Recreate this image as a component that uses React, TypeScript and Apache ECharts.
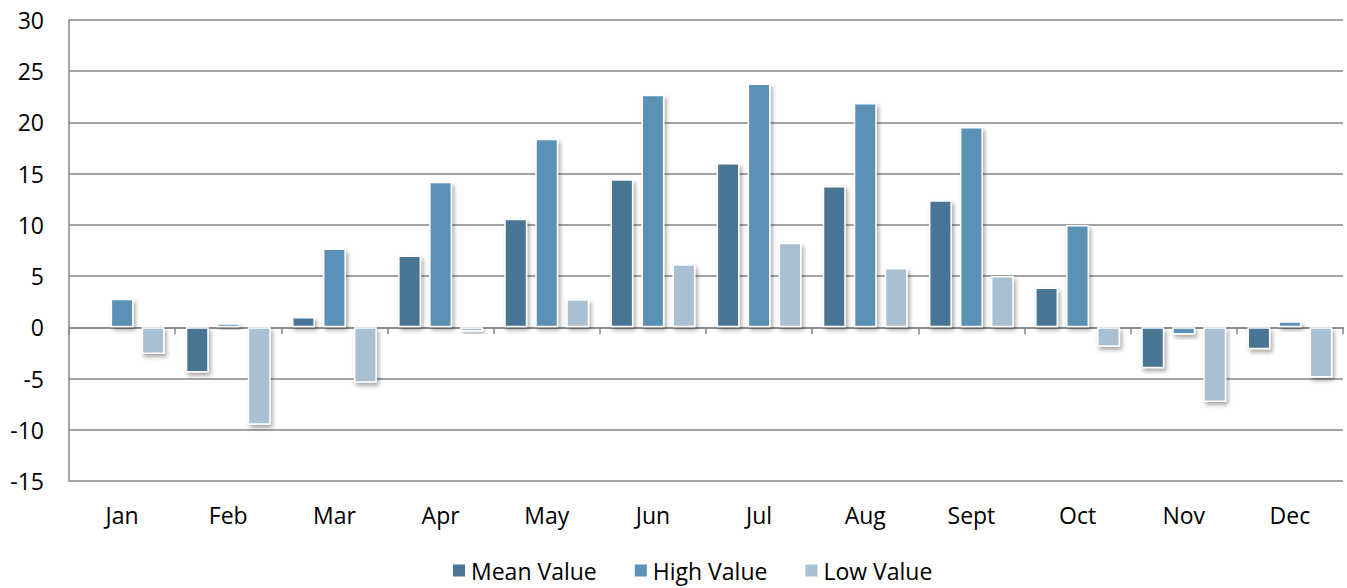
import React, { useEffect, useRef } from "react";
import * as echarts from "echarts";

const categories = ["Jan", "Feb", "Mar", "Apr", "May", "Jun", "Jul", "Aug", "Sept", "Oct", "Nov", "Dec"];
const meanValues = [-0.1, -4.4, 1.0, 7.0, 10.6, 14.45, 16.05, 13.8, 12.4, 3.9, -4.0, -2.15];
const highValues = [2.8, 0.4, 7.7, 14.2, 18.4, 22.7, 23.8, 21.9, 19.55, 10.0, -0.7, 0.6];
const lowValues = [-2.6, -9.5, -5.4, -0.4, 2.75, 6.15, 8.25, 5.8, 5.0, -1.9, -7.3, -4.9];

const FONT = "'Open Sans', sans-serif";
const FS = 23;

export default function App() {
  const ref = useRef<HTMLDivElement>(null);
  useEffect(() => {
    document.body.style.margin = "0";
    const chart = echarts.init(ref.current!, null, { renderer: "svg" });
    const barStyle = (color: string) => ({
      color,
      borderColor: "#ffffff",
      borderWidth: 1.5,
      shadowColor: "rgba(0,0,0,0.35)",
      shadowBlur: 4,
      shadowOffsetX: 2,
      shadowOffsetY: 3,
    });
    chart.setOption({
      animation: false,
      textStyle: { fontFamily: FONT },
      grid: { left: 69, right: 4, top: 20, bottom: 107, containLabel: false },
      legend: {
        bottom: 1,
        left: 446,
        itemWidth: 14,
        itemHeight: 14,
        itemGap: 36,
        icon: "rect",
        textStyle: { fontSize: FS, color: "#000", fontFamily: FONT },
        data: ["Mean Value", "High Value", "Low Value"],
      },
      xAxis: [
        {
          type: "category",
          data: categories,
          position: "bottom",
          axisLine: { show: false, onZero: false },
          axisTick: { show: false },
          axisLabel: { fontSize: FS, color: "#000", margin: 22, fontFamily: FONT },
        },
        {
          type: "category",
          data: categories,
          position: "bottom",
          axisLine: { show: true, onZero: true, lineStyle: { color: "#868686", width: 1.5 } },
          axisTick: { show: true, alignWithLabel: false, length: 7, lineStyle: { color: "#868686", width: 1.5 } },
          axisLabel: { show: false },
        },
      ],
      yAxis: {
        type: "value",
        min: -15,
        max: 30,
        interval: 5,
        axisLine: { show: true, lineStyle: { color: "#868686", width: 1.5 } },
        axisTick: { show: false },
        splitLine: { show: true, lineStyle: { color: "#868686", width: 1.5 } },
        axisLabel: { fontSize: FS, color: "#000", margin: 25, fontFamily: FONT },
      },
      series: [
        {
          name: "Mean Value",
          type: "bar",
          data: meanValues,
          itemStyle: barStyle("#4A7594"),
          barGap: "35%",
          barCategoryGap: "20%",
        },
        {
          name: "High Value",
          type: "bar",
          data: highValues,
          itemStyle: barStyle("#5B91B6"),
          barGap: "35%",
          barCategoryGap: "20%",
        },
        {
          name: "Low Value",
          type: "bar",
          data: lowValues,
          itemStyle: barStyle("#A9BFD2"),
          barGap: "35%",
          barCategoryGap: "20%",
        },
      ],
    });
    return () => chart.dispose();
  }, []);
  return <div ref={ref} style={{ width: 1347, height: 588 }} />;
}
